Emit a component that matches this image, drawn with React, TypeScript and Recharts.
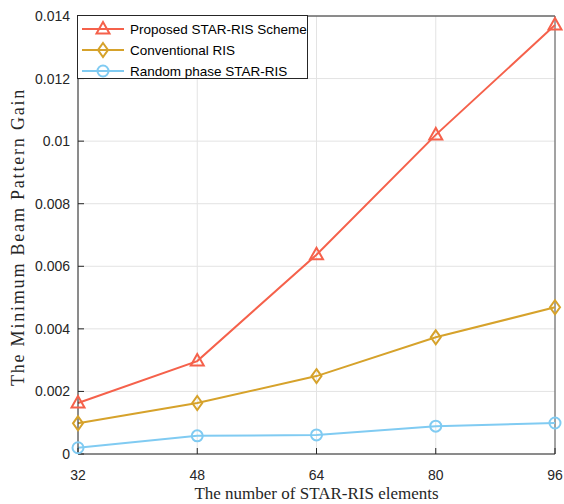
import React from 'react';
import { LineChart, Line, XAxis, YAxis, CartesianGrid, Label, ReferenceLine } from 'recharts';

const elements = [32, 48, 64, 80, 96];
const proposed = [0.00163, 0.00297, 0.00637, 0.0102, 0.01371];
const conventional = [0.00098, 0.00163, 0.00249, 0.00373, 0.00469];
const randomPhase = [0.0002, 0.00058, 0.00061, 0.00089, 0.00099];
const xTicks = [32, 48, 64, 80, 96];
const yTicks = [0, 0.002, 0.004, 0.006, 0.008, 0.01, 0.012, 0.014];
const yTickLabels = ['0', '0.002', '0.004', '0.006', '0.008', '0.01', '0.012', '0.014'];
const seriesNames = ['Proposed STAR-RIS Scheme', 'Conventional RIS', 'Random phase STAR-RIS'];
const xTitle = 'The number of STAR-RIS elements';
const yTitle = 'The Minimum Beam Pattern Gain';

const data = elements.map((n, i) => ({
  n,
  proposed: proposed[i],
  conventional: conventional[i],
  random: randomPhase[i],
}));

const COLORS = ['#F5614B', '#D6A22B', '#80CBF2'];
const SHAPES = ['triangle', 'diamond', 'circle'];
const AXIS = '#262626';
const SANS = '"Liberation Sans", Arial, Helvetica, sans-serif';
const SERIF = '"Liberation Serif", "Times New Roman", serif';

function marker(shape: string, cx: number, cy: number, color: string, key?: any) {
  if (shape === 'triangle') {
    return (
      <polygon key={key} points={`${cx},${cy - 7} ${cx - 6.5},${cy + 4.5} ${cx + 6.5},${cy + 4.5}`}
        fill="none" stroke={color} strokeWidth={2} strokeLinejoin="miter" />
    );
  }
  if (shape === 'diamond') {
    return (
      <polygon key={key} points={`${cx},${cy - 7} ${cx + 5},${cy} ${cx},${cy + 7} ${cx - 5},${cy}`}
        fill="none" stroke={color} strokeWidth={2} />
    );
  }
  return <circle key={key} cx={cx} cy={cy} r={5.5} fill="none" stroke={color} strokeWidth={2} />;
}

const makeDot = (idx: number) => (props: any) => {
  const { cx, cy, index } = props;
  if (cx == null || cy == null) return <g key={`e${index}`} />;
  return marker(SHAPES[idx], cx, cy, COLORS[idx], `d${idx}-${index}`);
};

function LegendBox() {
  const rows = [14, 35, 56];
  return (
    <svg width={232} height={65} style={{ display: 'block' }}>
      <rect x={0.5} y={0.5} width={230} height={63} fill="#fff" stroke={AXIS} strokeWidth={1} />
      {seriesNames.map((name, i) => (
        <g key={name}>
          <line x1={5} x2={47} y1={rows[i]} y2={rows[i]} stroke={COLORS[i]} strokeWidth={2} />
          {marker(SHAPES[i], 26, rows[i], COLORS[i])}
          <text x={53} y={rows[i]} dy="0.35em" fontFamily={SANS} fontSize={13.5} fill="#000">
            {name}
          </text>
        </g>
      ))}
    </svg>
  );
}

function XTitle(props: any) {
  const vb = props.viewBox || {};
  return (
    <text x={vb.x + vb.width / 2} y={vb.y + 45} textAnchor="middle" fontFamily={SERIF}
      fontSize={17} fill="#262626">
      {xTitle}
    </text>
  );
}

function YTitle(props: any) {
  const vb = props.viewBox || {};
  const cx = 24;
  const cy = vb.y + vb.height / 2 + 2;
  return (
    <text x={cx} y={cy} textAnchor="middle" transform={`rotate(-90, ${cx}, ${cy})`}
      fontFamily={SERIF} fontSize={18} letterSpacing={1.8} fill="#262626">
      {yTitle}
    </text>
  );
}

export default function App() {
  const tickStyle = { fontFamily: SANS, fontSize: 14, fill: AXIS };
  return (
    <div style={{ position: 'absolute', left: 0, top: 0, width: 564, height: 504, background: '#fff' }}>
      <LineChart width={564} height={504} data={data} margin={{ top: 16, right: 9, bottom: 0, left: 0 }}>
        <CartesianGrid stroke="#e3e3e3" strokeWidth={1} />
        <XAxis dataKey="n" type="number" domain={[32, 96]} ticks={xTicks} height={50}
          tick={tickStyle} tickSize={-6} tickMargin={22} stroke={AXIS}
          axisLine={{ stroke: AXIS, strokeWidth: 1 }} tickLine={{ stroke: AXIS }} interval={0}>
          <Label content={<XTitle />} />
        </XAxis>
        <YAxis type="number" domain={[0, 0.014]} ticks={yTicks} width={78} tick={tickStyle}
          tickSize={-6} tickMargin={14} stroke={AXIS} axisLine={{ stroke: AXIS }} tickLine={{ stroke: AXIS }}
          interval={0} tickFormatter={(v: number) => {
            const i = yTicks.findIndex((t) => Math.abs(t - v) < 1e-9);
            return i >= 0 ? yTickLabels[i] : String(v);
          }}>
          <Label content={<YTitle />} />
        </YAxis>
        <ReferenceLine y={0.014} stroke={AXIS} strokeWidth={1} ifOverflow="visible" />
        <ReferenceLine x={96} stroke="#555" strokeWidth={1} ifOverflow="visible" />
        <Line dataKey="proposed" name={seriesNames[0]} stroke={COLORS[0]} strokeWidth={2}
          dot={makeDot(0)} activeDot={false} isAnimationActive={false} />
        <Line dataKey="conventional" name={seriesNames[1]} stroke={COLORS[1]} strokeWidth={2}
          dot={makeDot(1)} activeDot={false} isAnimationActive={false} />
        <Line dataKey="random" name={seriesNames[2]} stroke={COLORS[2]} strokeWidth={2}
          dot={makeDot(2)} activeDot={false} isAnimationActive={false} />
      </LineChart>
      <div style={{ position: 'absolute', left: 77, top: 15 }}>
        <LegendBox />
      </div>
    </div>
  );
}
